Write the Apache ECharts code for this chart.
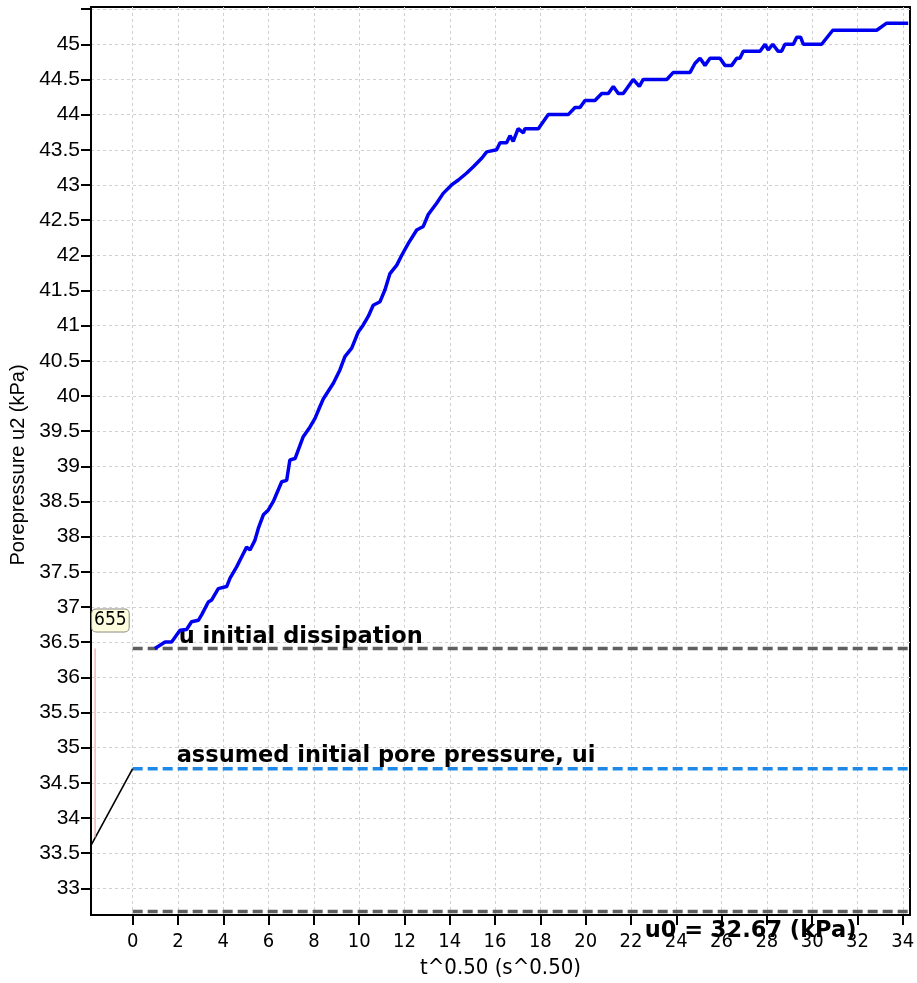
<!DOCTYPE html>
<html><head><meta charset="utf-8">
<script src="https://cdn.jsdelivr.net/npm/echarts@6/dist/echarts.min.js"></script>
<style>html,body{margin:0;padding:0;background:#fff}#c{width:917px;height:983px}</style>
</head><body><div id="c"></div>
<script>
// ---- data ----
const tValues = [0.98,1.43,1.72,2.09,2.38,2.60,2.90,3.05,3.34,3.49,3.78,4.15,4.30,4.59,4.81,5.03,5.18,5.40,5.55,5.77,5.99,6.21,6.58,6.80,6.94,7.17,7.53,7.83,8.05,8.27,8.42,8.86,9.15,9.37,9.67,9.96,10.18,10.40,10.62,10.92,11.14,11.36,11.66,11.88,12.17,12.54,12.83,13.05,13.42,13.71,14.08,14.38,14.75,15.04,15.41,15.63,16.07,16.22,16.51,16.66,16.80,17.02,17.25,17.32,17.91,18.35,19.23,19.53,19.75,19.97,20.41,20.71,21.00,21.22,21.44,21.66,22.10,22.37,22.54,23.58,23.87,24.61,24.83,25.05,25.27,25.49,25.93,26.15,26.45,26.67,26.81,26.96,27.70,27.92,28.06,28.26,28.50,28.65,28.80,29.17,29.32,29.49,29.61,30.42,30.91,32.85,33.29,34.24];
const u2Values = [36.41,36.50,36.50,36.67,36.68,36.79,36.81,36.89,37.07,37.10,37.26,37.29,37.41,37.57,37.71,37.85,37.81,37.95,38.12,38.31,38.38,38.50,38.78,38.80,39.09,39.11,39.42,39.56,39.68,39.85,39.96,40.18,40.37,40.56,40.68,40.91,41.01,41.13,41.29,41.34,41.51,41.74,41.86,42.00,42.17,42.36,42.41,42.58,42.74,42.88,43.00,43.07,43.17,43.26,43.38,43.47,43.50,43.60,43.60,43.70,43.62,43.80,43.74,43.80,43.80,44.00,44.00,44.10,44.10,44.20,44.20,44.30,44.30,44.40,44.30,44.30,44.50,44.40,44.50,44.50,44.60,44.60,44.73,44.80,44.70,44.80,44.80,44.70,44.70,44.80,44.80,44.90,44.90,45.00,44.92,45.00,44.90,44.90,45.00,45.00,45.10,45.10,45.00,45.00,45.20,45.20,45.30,45.30];
const xTickValues = [0,2,4,6,8,10,12,14,16,18,20,22,24,26,28,30,32,34];
const yLabelValues = [33,33.5,34,34.5,35,35.5,36,36.5,37,37.5,38,38.5,39,39.5,40,40.5,41,41.5,42,42.5,43,43.5,44,44.5,45];
const yTickValues = yLabelValues.concat([45.5]);
const xRange = [-1.84, 34.32];
const yRange = [32.62, 45.53];
const uInitialDissipation = 36.41;
const uAssumedInitial = 34.7;
const u0 = 32.67;
const rampT = [-1.84, 0];
const rampU = [33.61, 34.7];
const markerT = -1.66;
const markerU = [36.41, 33.72];
const markerText = '655';
const labelDissipation = 'u initial dissipation';
const labelAssumed = 'assumed initial pore pressure, ui';
const labelU0 = 'u0 = 32.67 (kPa)';

// ---- chart ----
const condensed = "'DejaVu Sans Condensed', 'DejaVu Sans', sans-serif";
const arialLike = "'Liberation Sans', Arial, sans-serif";
const chart = echarts.init(document.getElementById('c'), null, {renderer: 'canvas'});
const curve = tValues.map((t, i) => [t, u2Values[i]]);
const boldLabel = (text, pos) => ({
  show: true, formatter: text, position: pos, align: 'left', verticalAlign: 'middle',
  color: '#000', fontFamily: "'DejaVu Sans', sans-serif", fontWeight: 'bold', fontSize: 22.5
});
function hLine(value, color, label, pos) {
  return {
    type: 'line', symbol: 'circle', symbolSize: 0.01, silent: true, clip: false,
    lineStyle: {color: color, width: 3.5, type: [10, 5]},
    itemStyle: {color: color},
    data: [{value: [0, value], label: boldLabel(label, pos)}, [xRange[1], value]],
    z: 3
  };
}
const option = {
  animation: false,
  backgroundColor: '#fff',
  grid: {left: 91, right: 7, top: 7, bottom: 68, show: true, borderColor: '#000', borderWidth: 2,
         backgroundColor: 'transparent', containLabel: false, outerBoundsMode: 'none'},
  xAxis: {
    type: 'value', min: xRange[0], max: xRange[1],
    name: 't^0.50 (s^0.50)', nameLocation: 'middle', nameGap: 42,
    nameTextStyle: {fontFamily: condensed, fontSize: 22, color: '#000'},
    axisLine: {show: true, onZero: false, lineStyle: {color: '#000', width: 2}},
    axisTick: {show: true, length: 10, lineStyle: {color: '#000', width: 2}, customValues: xTickValues},
    axisLabel: {fontFamily: condensed, fontSize: 20, color: '#000', margin: 17, customValues: xTickValues},
    splitLine: {show: true, lineStyle: {color: '#d0d0d0', width: 1, type: [3, 3]}}
  },
  yAxis: {
    type: 'value', min: yRange[0], max: yRange[1],
    name: 'Porepressure u2 (kPa)', nameLocation: 'middle', nameGap: 62,
    nameTextStyle: {fontFamily: arialLike, fontSize: 20, color: '#000', padding: [0, 8, 0, 0]},
    axisLine: {show: true, onZero: false, lineStyle: {color: '#000', width: 2}},
    axisTick: {show: true, length: 10, lineStyle: {color: '#000', width: 2}, customValues: yTickValues},
    axisLabel: {fontFamily: arialLike, fontSize: 21, color: '#000', margin: 11, customValues: yLabelValues},
    splitLine: {show: true, lineStyle: {color: '#d0d0d0', width: 1, type: [3, 3]}}
  },
  series: [
    hLine(u0, '#5f5f5f', labelU0, [512, 20]),
    hLine(uAssumedInitial, '#1e88e8', labelAssumed, [44, -12.5]),
    hLine(uInitialDissipation, '#5f5f5f', labelDissipation, [46, -11]),
    {
      type: 'line', symbol: 'none', silent: true, z: 4,
      lineStyle: {color: '#000', width: 1.6},
      data: rampT.map((t, i) => [t, rampU[i]])
    },
    {
      type: 'line', symbol: 'circle', symbolSize: 0.01, silent: true, z: 4,
      lineStyle: {color: '#ee9090', width: 1},
      itemStyle: {color: '#ee9090'},
      data: [
        {value: [markerT, markerU[0]], label: {
          show: true, formatter: markerText, position: [-3, -39], align: 'left', verticalAlign: 'top',
          fontFamily: condensed, fontSize: 19, color: '#000', lineHeight: 20,
          backgroundColor: '#ffffe0', borderColor: '#8a8a80', borderWidth: 1, borderRadius: 4, padding: [1, 2, 1, 2]
        }},
        [markerT, markerU[1]]
      ]
    },
    {
      type: 'line', symbol: 'none', silent: true, z: 5,
      lineStyle: {color: '#0000f0', width: 3.5},
      data: curve
    }
  ]
};
chart.setOption(option);
</script>
</body></html>
